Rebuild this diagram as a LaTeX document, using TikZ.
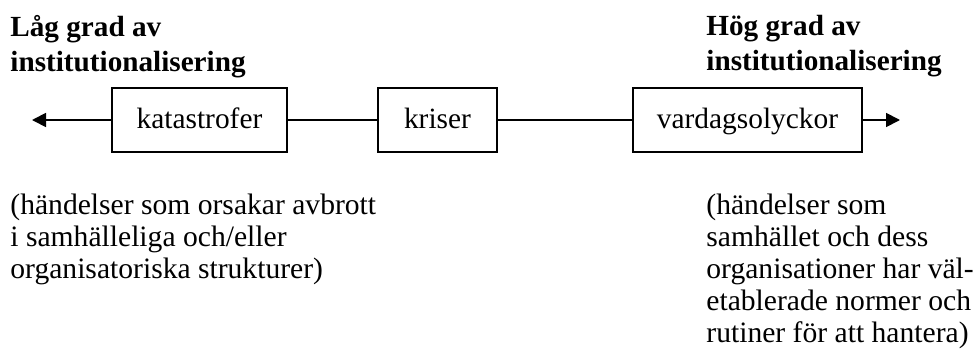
\documentclass[tikz,border=0pt]{standalone}
\usepackage{fontspec}
\setmainfont{Liberation Serif}
\usetikzlibrary{arrows.meta}

\begin{document}
\begin{tikzpicture}[x=0.5pt, y=0.5pt,
        typbox/.style={draw, line width=0.9pt, minimum height=32pt, inner sep=0pt, text height=11pt, text depth=3pt, font=\fontsize{14.7}{16}\selectfont},
        rubrik/.style={anchor=north west, inner sep=0pt, align=left, font=\fontsize{14.6}{17.5}\selectfont\bfseries},
        notis/.style={anchor=north west, inner sep=0pt, align=left, font=\fontsize{14.8}{16}\selectfont},
        skala/.style={line width=0.9pt}]
        \useasboundingbox (0,0) rectangle (973,360);

        % Rubriker
        \node[rubrik] (lag) at (10,345) {Låg grad av\\institutionalisering};
        \node[rubrik] (hog) at (706,345) {Hög grad av\\institutionalisering};

        % Typer av händelser
        \node[typbox, minimum width=87.5pt] (katastrofer) at (199.5,240) {katastrofer};
        \node[typbox, minimum width=59.5pt] (kriser) at (437.5,240) {kriser};
        \node[typbox, minimum width=114.5pt] (vardag) at (747.5,240) {vardagsolyckor};

        % Skalan
        \coordinate (vanster) at (32,240);
        \coordinate (hoger) at (900,240);
        \draw[skala, -{Triangle[length=7pt, width=7pt]}] (katastrofer) -- (vanster);
        \draw[skala] (katastrofer) -- (kriser);
        \draw[skala] (kriser) -- (vardag);
        \draw[skala, -{Triangle[length=7pt, width=7pt]}] (vardag) -- (hoger);

        % Förklaringar
        \node[notis] (forklaring1) at (10,166) {(händelser som orsakar avbrott\\i samhälleliga och/eller\\organisatoriska strukturer)};
        \node[notis] (forklaring2) at (706,166) {(händelser som\\samhället och dess\\organisationer har väl-\\etablerade normer och\\rutiner för att hantera)};
\end{tikzpicture}
\end{document}
